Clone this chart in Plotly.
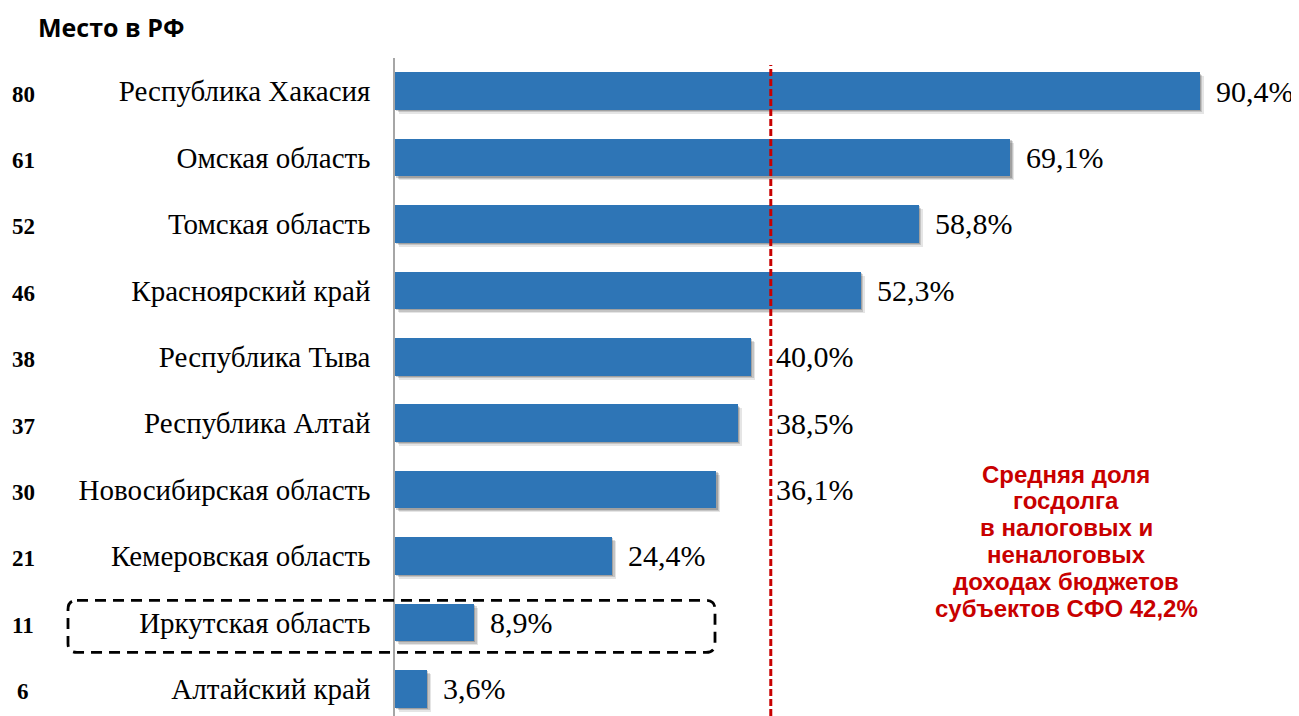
import plotly.graph_objects as go

# данные
regions = ["Республика Хакасия", "Омская область", "Томская область", "Красноярский край",
           "Республика Тыва", "Республика Алтай", "Новосибирская область",
           "Кемеровская область", "Иркутская область", "Алтайский край"]
ranks = ["80", "61", "52", "46", "38", "37", "30", "21", "11", "6"]
shares = [90.4, 69.1, 58.8, 52.3, 40.0, 38.5, 36.1, 24.4, 8.9, 3.6]
avg_share = 42.2
avg_lines = ["Средняя доля", "госдолга", "в налоговых и", "неналоговых",
             "доходах бюджетов", "субъектов СФО 42,2%"]
highlight = "Иркутская область"

OFF = 8  # отступ body в html-странице
W, H = 1299 - OFF, 716 - OFF
L, R, T, B = 395 - OFF, 0, 58 - OFF, 0
x_range = [0, 101.52]
y_range = [9.41, -0.5]
bar_w = 0.565
blue = "#2E75B6"
red = "#C80000"

pw, ph = W - L - R, H - T - B
px_x = pw / (x_range[1] - x_range[0])
px_y = ph / (y_range[0] - y_range[1])


def paper(x, y):
    # пиксели экрана -> координаты paper
    return (x - OFF - L) / pw, 1 - (y - OFF - T) / ph


def ypx(i):
    return OFF + T + (i - y_range[1]) * px_y


idx = list(range(len(regions)))

fig = go.Figure()

# тень под столбцами
for d, a in [(4, 0.10), (2.5, 0.14), (1.2, 0.18)]:
    fig.add_trace(go.Bar(y=[i + d / px_y for i in idx], x=shares, base=d / px_x,
                         orientation="h", width=bar_w,
                         marker=dict(color=f"rgba(0,0,0,{a})", line_width=0),
                         hoverinfo="skip", showlegend=False))

fig.add_trace(go.Bar(y=idx, x=shares, orientation="h", width=bar_w,
                     marker=dict(color=blue, line_width=0), showlegend=False))

# подписи значений
for i, v in zip(idx, shares):
    near = v < avg_share and avg_share - v < 7
    fig.add_annotation(x=avg_share if near else v, y=i, xref="x", yref="y",
                       text=f"{v:.1f}%".replace(".", ","), showarrow=False,
                       xanchor="left", yanchor="middle", xshift=3 if near else 14,
                       font=dict(family="Liberation Serif", size=30, color="black"))

# места в РФ
for i, r in zip(idx, ranks):
    fig.add_annotation(x=paper(23, 0)[0], y=i, xref="paper", yref="y",
                       text=f"<b>{r}</b>", showarrow=False, xanchor="center", yshift=-3,
                       font=dict(family="Liberation Serif", size=23, color="black"))

tx, ty = paper(36, 27)
fig.add_annotation(x=tx, y=ty, xref="paper", yref="paper", text="<b>Место в РФ</b>",
                   showarrow=False, xanchor="left", yanchor="middle",
                   font=dict(family="Open Sans", size=25, color="black"))

# средняя линия
fig.add_shape(type="line", x0=avg_share, x1=avg_share, xref="x",
              y0=0, y1=paper(0, 65)[1], yref="paper",
              line=dict(color=red, width=3, dash="7px,3px"))

for n, line in enumerate(avg_lines):
    ax, ay = paper(1066, 474 + n * 26.8)
    fig.add_annotation(x=ax, y=ay, xref="paper", yref="paper", text=line,
                       showarrow=False, xanchor="center", yanchor="middle",
                       font=dict(family="Liberation Sans", size=24, color=red, weight="bold"))

# рамка вокруг Иркутской области
k = regions.index(highlight)
yc = ypx(k) + 4
x0p, x1p, y0p, y1p, rad = 68, 715, yc - 26, yc + 26, 9
pts = [(x0p + rad, y0p), (x1p - rad, y0p), (x1p, y0p), (x1p, y0p + rad),
       (x1p, y1p - rad), (x1p, y1p), (x1p - rad, y1p), (x0p + rad, y1p),
       (x0p, y1p), (x0p, y1p - rad), (x0p, y0p + rad), (x0p, y0p), (x0p + rad, y0p)]
pp = [paper(*p) for p in pts]
path = (f"M{pp[0][0]},{pp[0][1]} L{pp[1][0]},{pp[1][1]} Q{pp[2][0]},{pp[2][1]} {pp[3][0]},{pp[3][1]} "
        f"L{pp[4][0]},{pp[4][1]} Q{pp[5][0]},{pp[5][1]} {pp[6][0]},{pp[6][1]} "
        f"L{pp[7][0]},{pp[7][1]} Q{pp[8][0]},{pp[8][1]} {pp[9][0]},{pp[9][1]} "
        f"L{pp[10][0]},{pp[10][1]} Q{pp[11][0]},{pp[11][1]} {pp[12][0]},{pp[12][1]}")
fig.add_shape(type="path", path=path, xref="paper", yref="paper",
              line=dict(color="black", width=2.8, dash="11px,7px"))

fig.update_layout(
    width=W, height=H,
    margin=dict(l=L, r=R, t=T, b=B, autoexpand=False),
    plot_bgcolor="white", paper_bgcolor="white",
    barmode="overlay", bargap=0,
    showlegend=False,
)
fig.update_xaxes(range=x_range, visible=False, fixedrange=True)
fig.update_yaxes(range=y_range, tickvals=idx, ticktext=regions, showgrid=False,
                 zeroline=False, showline=True, linecolor="#A6A6A6", linewidth=1.5,
                 ticks="", ticklabelstandoff=17, automargin=False,
                 tickfont=dict(family="Liberation Serif", size=29, color="black"))

fig.write_html("out.html")
